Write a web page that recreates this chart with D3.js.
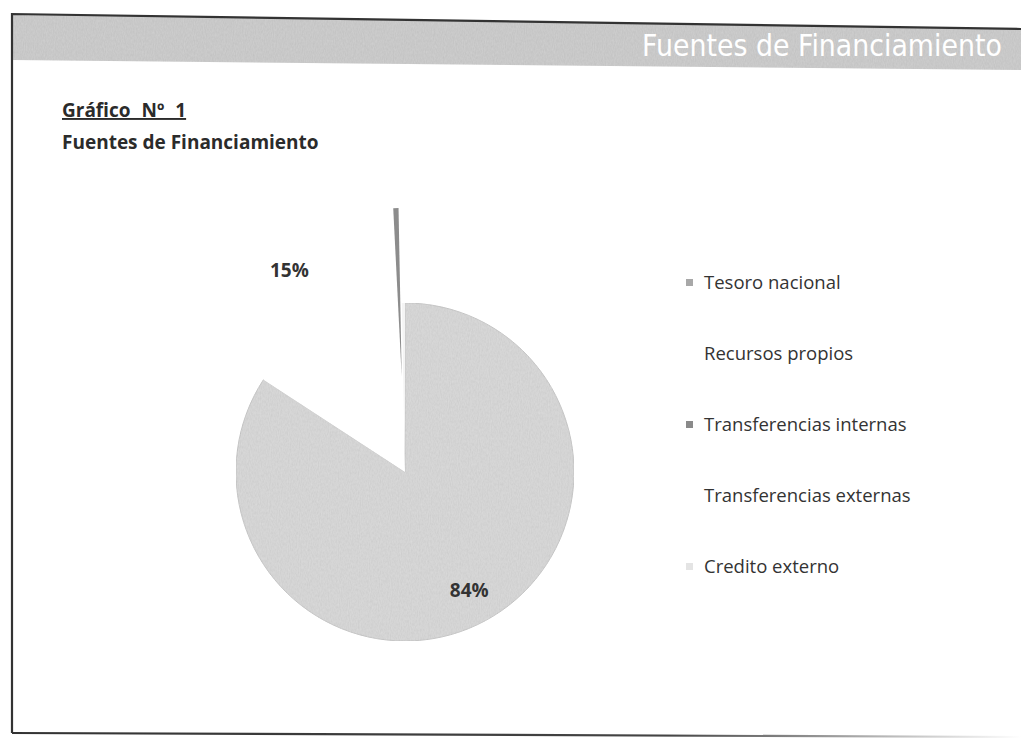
<!DOCTYPE html>
<html>
<head>
<meta charset="utf-8">
<script src="https://cdn.jsdelivr.net/npm/d3@7"></script>
<style>
  body { margin: 0; background: #fff; }
  svg { display: block; }
</style>
</head>
<body>
<svg id="chart" width="1021" height="742"></svg>
<script>
// data read from the scanned page
var categories = ["Tesoro nacional", "Recursos propios", "Transferencias internas", "Transferencias externas", "Credito externo"];
var values = [84.2, 15.0, 0.5, 0.0, 0.3];
var sliceColors = ["#dcdcdc", "#ffffff", "#8c8c8c", "#ffffff", "#f4f4f4"];
var markerColors = ["#a8a8a8", "#ffffff", "#8a8a8a", "#ffffff", "#e4e4e4"];

var svg = d3.select("#chart");

// scan noise
var defs = svg.append("defs");
var noise = defs.append("filter").attr("id", "grain").attr("x", 0).attr("y", 0).attr("width", "100%").attr("height", "100%");
noise.append("feTurbulence").attr("type", "fractalNoise").attr("baseFrequency", "0.9 0.35").attr("numOctaves", 2).attr("seed", 4).attr("result", "n");
noise.append("feColorMatrix").attr("in", "n").attr("type", "matrix")
  .attr("values", "0 0 0 0 0  0 0 0 0 0  0 0 0 0 0  0 0 0 0.16 0").attr("result", "dots");
noise.append("feComposite").attr("in", "dots").attr("in2", "SourceGraphic").attr("operator", "in").attr("result", "d2");
noise.append("feMerge").selectAll("feMergeNode").data(["SourceGraphic", "d2"]).enter()
  .append("feMergeNode").attr("in", d => d);

var fade = defs.append("linearGradient").attr("id", "fade")
  .attr("gradientUnits", "userSpaceOnUse")
  .attr("x1", 12).attr("y1", 0).attr("x2", 1021).attr("y2", 0);
fade.append("stop").attr("offset", "0%").attr("stop-color", "#333");
fade.append("stop").attr("offset", "65%").attr("stop-color", "#444");
fade.append("stop").attr("offset", "100%").attr("stop-color", "#fff");

//Page frame + header band
svg.append("path")
  .attr("d", "M12,14 L1021,29 L1021,70 L12,60 Z")
  .attr("fill", "#d0d0d0")
  .attr("filter", "url(#grain)");

svg.append("path")
  .attr("d", "M1021,29 L12,14 L12,733")
  .attr("fill", "none")
  .attr("stroke", "#333")
  .attr("stroke-width", 2.2);

svg.append("path")
  .attr("d", "M12,733 L1021,737")
  .attr("fill", "none")
  .attr("stroke", "url(#fade)")
  .attr("stroke-width", 2.2);

// header title, squeezed horizontally to fit the band
var head = svg.append("text")
  .attr("fill", "#fff")
  .style("font-family", "'DejaVu Sans', sans-serif")
  .style("font-size", "30px")
  .text("Fuentes de Financiamiento");
var headW = head.node().getComputedTextLength();
head.attr("transform", "translate(642,56) scale(" + (360 / headW) + ",1)");

//Titles
svg.append("text")
  .attr("x", 62).attr("y", 117)
  .attr("fill", "#2b2b2b")
  .style("font-family", "'Open Sans', sans-serif")
  .style("font-weight", "bold")
  .style("font-size", "19px")
  .style("word-spacing", "6px")
  .style("text-decoration", "underline")
  .text("Gráfico Nº 1");

svg.append("text")
  .attr("x", 62).attr("y", 149)
  .attr("fill", "#2b2b2b")
  .style("font-family", "'Open Sans', sans-serif")
  .style("font-weight", "bold")
  .style("font-size", "19px")
  .text("Fuentes de Financiamiento");

//Pie
var cx = 405, cy = 472, r = 169;
var explode = [0, 0, 95, 0, 0];
var labelR = [135, 232, 0, 0, 0];

var pie = d3.pie().sort(null).value(d => d);
var arc = d3.arc().innerRadius(0).outerRadius(r);
var arcs = pie(values);

var g = svg.append("g").attr("transform", "translate(" + cx + "," + cy + ")");

function offset(d, dist) {
  var a = (d.startAngle + d.endAngle) / 2;
  return [Math.sin(a) * dist, -Math.cos(a) * dist];
}

g.selectAll("path.slice")
  .data(arcs)
  .enter().append("path")
    .attr("class", "slice")
    .attr("d", arc)
    .attr("transform", (d, i) => "translate(" + offset(d, explode[i]) + ")")
    .attr("fill", (d, i) => sliceColors[i])
    .attr("stroke", (d, i) => i == 0 ? "#cdcdcd" : "none")
    .attr("stroke-width", 1)
    .attr("filter", (d, i) => i == 0 ? "url(#grain)" : null);

g.selectAll("text.pct")
  .data(arcs.filter(d => d.data >= 5))
  .enter().append("text")
    .attr("class", "pct")
    .attr("transform", d => "translate(" + offset(d, labelR[d.index]) + ")")
    .attr("text-anchor", "middle")
    .attr("dy", "0.35em")
    .attr("fill", "#333")
    .style("font-family", "'Open Sans', sans-serif")
    .style("font-weight", "bold")
    .style("font-size", "19px")
    .text(d => Math.round(d.data) + "%");

//Legend
var ly = d3.scalePoint().domain(categories).range([283, 567]);

var legend = svg.append("g").attr("class", "legend");
var item = legend.selectAll("g")
  .data(categories)
  .enter().append("g")
    .attr("transform", d => "translate(686," + ly(d) + ")");

item.append("rect")
  .attr("x", 0).attr("y", -4)
  .attr("width", 7).attr("height", 7)
  .attr("fill", (d, i) => markerColors[i]);

item.append("text")
  .attr("x", 18)
  .attr("dy", "0.35em")
  .attr("fill", "#333")
  .style("font-family", "'Open Sans', sans-serif")
  .style("font-size", "18.5px")
  .text(d => d);
</script>
</body>
</html>
